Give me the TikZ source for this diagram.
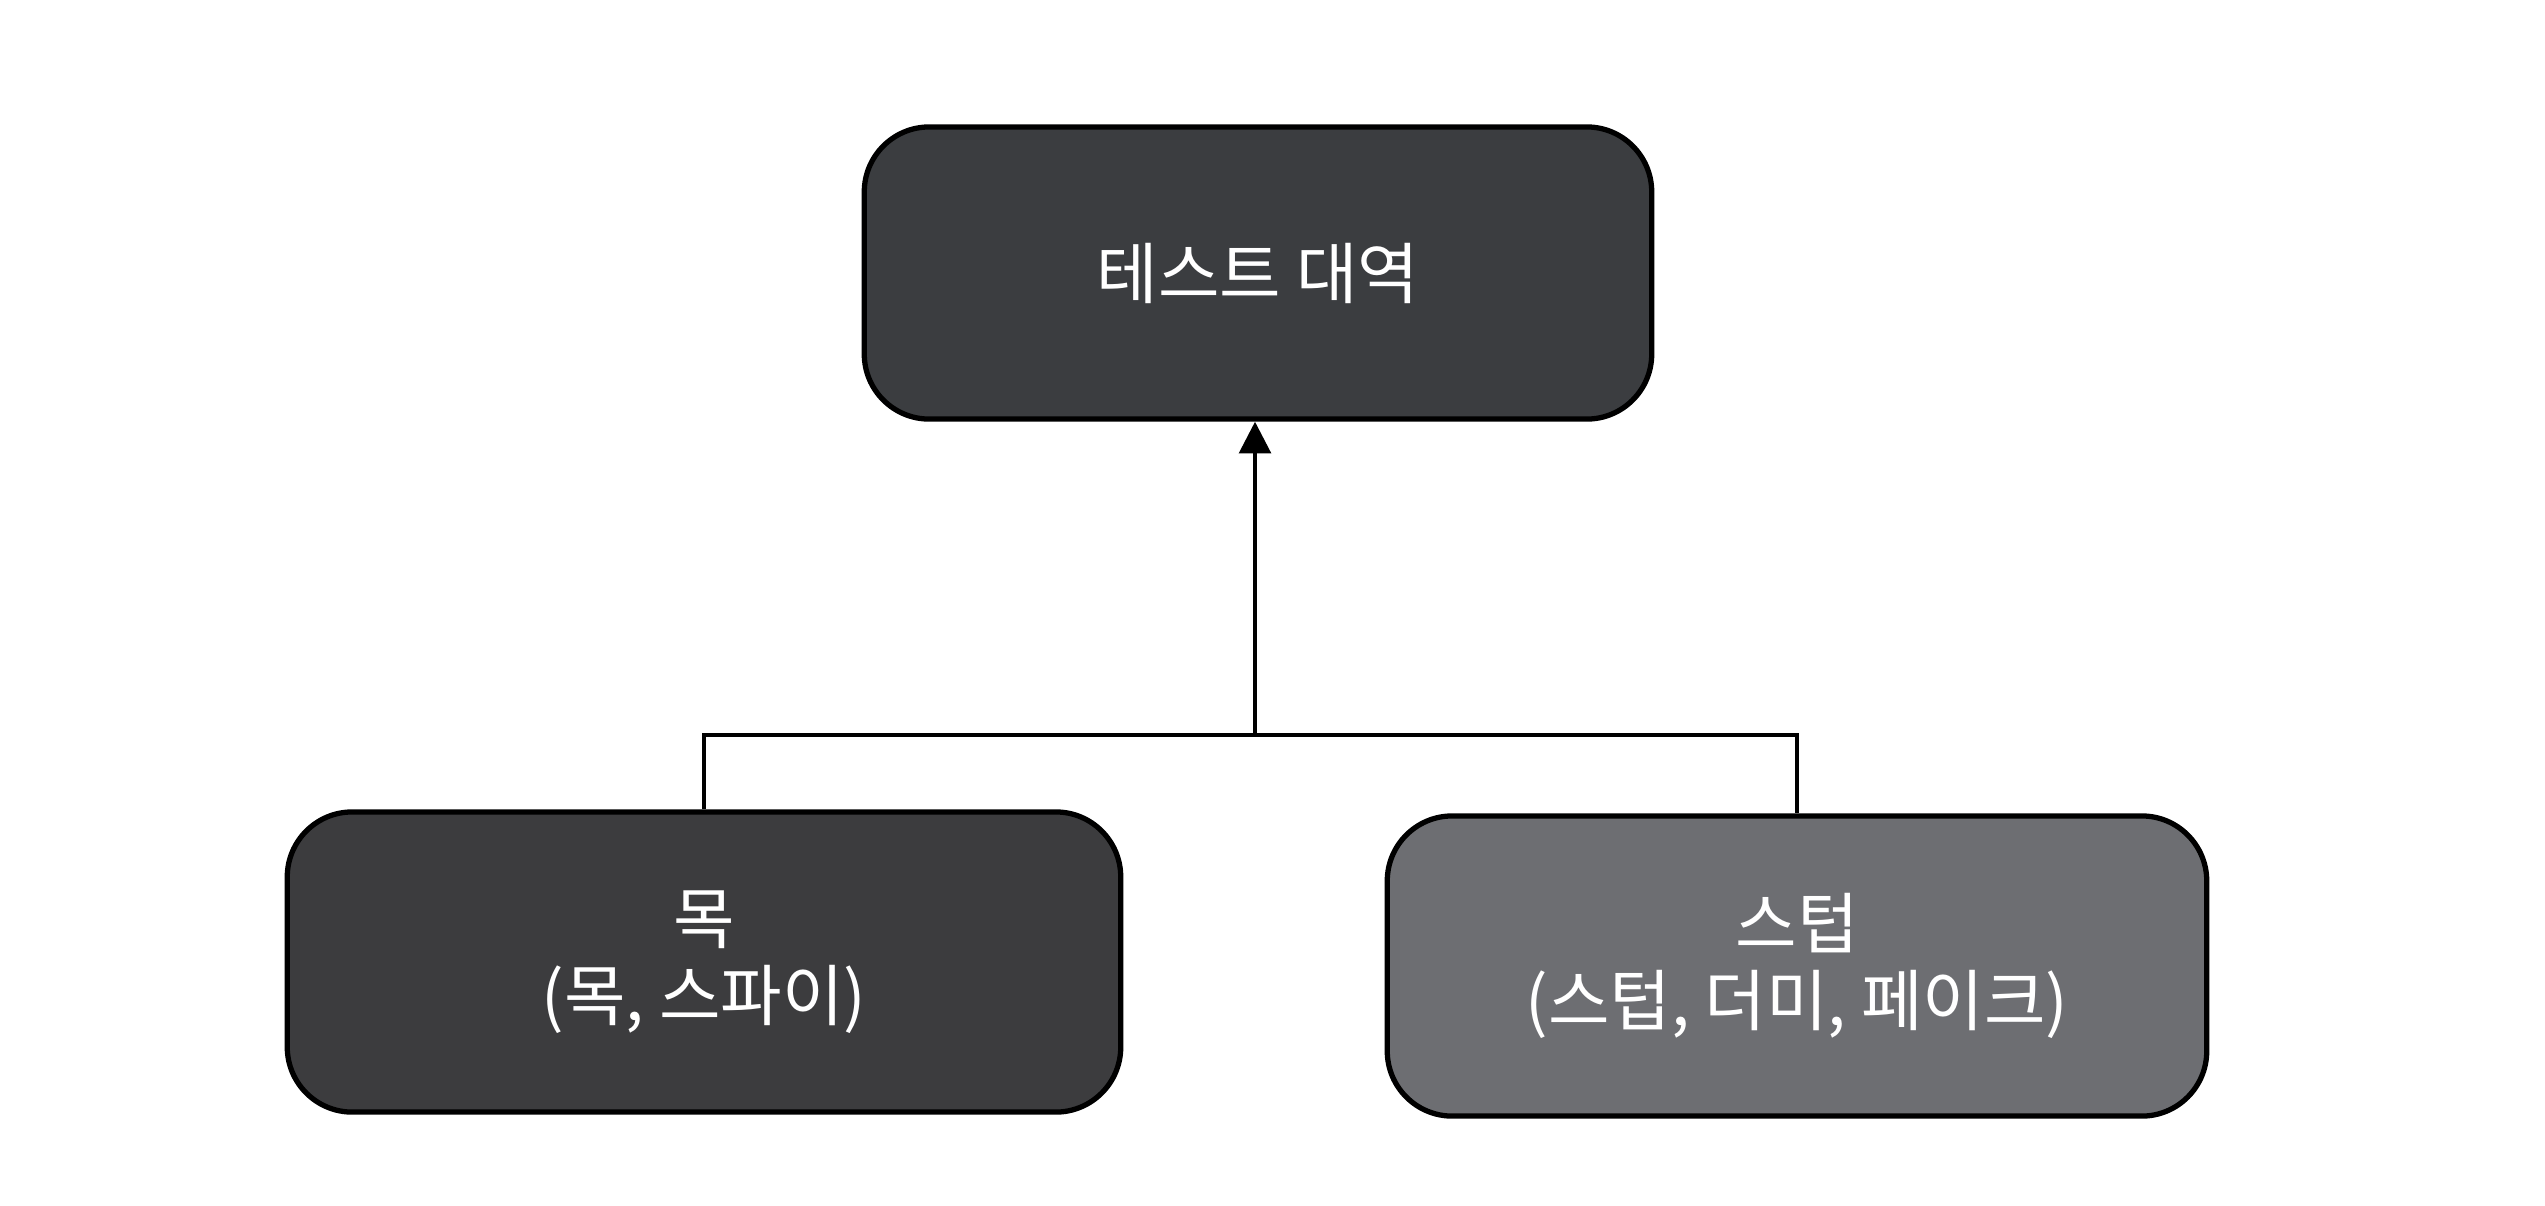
\documentclass[tikz,border=0pt]{standalone}
\usepackage{fontspec}
\newfontfamily\kr{Noto Sans CJK KR}
\usetikzlibrary{arrows.meta}
\definecolor{dblgray}{HTML}{3B3D40}
\definecolor{mockgray}{HTML}{3C3C3E}
\definecolor{stubgray}{HTML}{6D6E72}

\begin{document}
\begin{tikzpicture}[x=0.01cm,y=-0.01cm,
    box/.style={draw=black,line width=1.5pt,rounded corners=0.65cm,text=white,align=center,
      font=\kr\fontsize{19}{22}\selectfont}]
            \useasboundingbox (0,0) rectangle (2545,1205);

            \node[box,fill=dblgray,minimum width=7.87cm,minimum height=2.92cm] (dbl) at (1258,273) {테스트 대역};
            \node[box,fill=mockgray,minimum width=8.33cm,minimum height=3cm] (mock) at (704,962) {목\\(목, 스파이)};
            \node[box,fill=stubgray,minimum width=8.19cm,minimum height=3cm] (stub) at (1797,966) {스텁\\(스텁, 더미, 페이크)};
            \coordinate (join) at (1255,735);

            \draw[line width=1.1pt] (mock.north) |- (join) -| (stub.north);
            \draw[line width=1.1pt,-{Triangle[width=9pt,length=9pt]}] (join) -- (join |- dbl.south);
        \end{tikzpicture}
\end{document}
